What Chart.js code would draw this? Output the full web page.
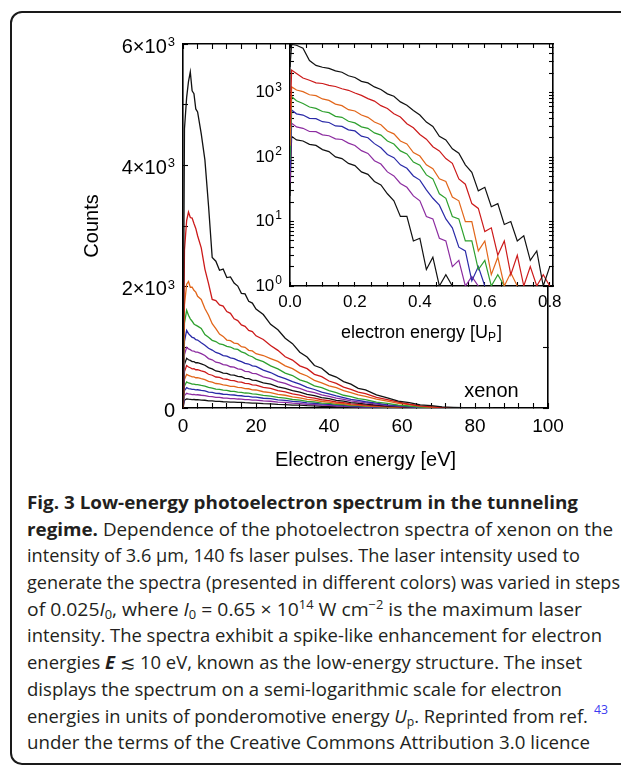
<!DOCTYPE html>
<html>
<head>
<meta charset="utf-8">
<title>Low-energy photoelectron spectrum</title>
<script src="https://cdn.jsdelivr.net/npm/chart.js@4.4.1/dist/chart.umd.min.js"></script>
<style>
  html, body { margin: 0; padding: 0; background: #fff; }
  body { width: 621px; height: 765px; position: relative; overflow: hidden; }
  #frame { position: absolute; left: 10px; top: 11px; width: 660px; height: 750px;
           border: 2px solid #1a1a1a; border-radius: 12px; }
  #mainChart { position: absolute; left: 0; top: 0; }
  #insetChart { position: absolute; left: 230px; top: 0; }
  #caption { position: absolute; left: 27px; top: 489px; font-family: "Open Sans", sans-serif;
             font-size: 18px; color: #231f20; }
  #caption .ln { height: 26.7px; line-height: 26.7px; white-space: nowrap; overflow: visible; }
  #caption .ln span.fit { display: inline-block; height: 26.7px; line-height: 26.7px; vertical-align: top;
                          transform-origin: 0 50%; }
  #caption sub, #caption sup { font-size: 12px; line-height: 0; }
  #caption sub { vertical-align: -3px; }
  #caption sup { vertical-align: 7px; }
  #caption .ref { color: #3b3bf0; font-size: 12px; line-height: 0; vertical-align: 9px; margin-left: 6px; }
</style>
</head>
<body>
<div id="frame"></div>
<canvas id="mainChart" width="621" height="480"></canvas>
<canvas id="insetChart" width="391" height="350"></canvas>

<div id="caption">
  <div class="ln"><span class="fit"><b>Fig. 3 Low-energy photoelectron spectrum in the tunneling</b></span></div>
  <div class="ln"><span class="fit"><b>regime.</b> Dependence of the photoelectron spectra of xenon on the</span></div>
  <div class="ln"><span class="fit">intensity of 3.6 μm, 140 fs laser pulses. The laser intensity used to</span></div>
  <div class="ln"><span class="fit">generate the spectra (presented in different colors) was varied in steps</span></div>
  <div class="ln"><span class="fit">of 0.025<i>I</i><sub>0</sub>, where <i>I</i><sub>0</sub> = 0.65 × 10<sup>14</sup> W cm<sup>−2</sup> is the maximum laser</span></div>
  <div class="ln"><span class="fit">intensity. The spectra exhibit a spike-like enhancement for electron</span></div>
  <div class="ln"><span class="fit">energies <b><i>E</i></b> ≲ 10 eV, known as the low-energy structure. The inset</span></div>
  <div class="ln"><span class="fit">displays the spectrum on a semi-logarithmic scale for electron</span></div>
  <div class="ln"><span class="fit">energies in units of ponderomotive energy <i>U</i><sub>p</sub>. Reprinted from ref.<span class="ref">43</span></span></div>
  <div class="ln"><span class="fit">under the terms of the Creative Commons Attribution 3.0 licence</span></div>
</div>

<script>
// ---- main panel: counts vs electron energy (eV) ----
const energyEv = [0, 0.4, 1, 1.5, 2, 2.5, 3, 3.5, 4, 5, 6, 7, 8, 9, 10, 11, 12, 13, 14, 15, 16, 17, 18, 19, 20,
  22, 24, 26, 28, 30, 32, 34, 36, 38, 40, 42, 44, 46, 48, 50, 53, 56, 59, 62, 65, 68, 71, 74, 77, 80, 85, 90, 95, 100];

// one spectrum per laser intensity (in units of I0), highest first
const countsI1000 = [0, 4600, 5120, 5380, 5540, 5230, 5180, 4930, 4880, 4520, 4090, 3330, 2480, 2420, 2270, 2290, 2150, 2160, 2060, 2010,
  1890, 1880, 1760, 1730, 1630, 1540, 1380, 1290, 1150, 1060, 920, 840, 700, 655, 555, 510, 435, 392, 325, 298,
  215, 168, 115, 88, 52, 38, 18, 11, 4, 2, 0];
const countsI0975 = [0, 2600, 3090, 3230, 3140, 3130, 3040, 2960, 2840, 2640, 2290, 2050, 1790, 1770, 1700, 1680, 1590, 1560, 1470, 1440,
  1370, 1345, 1280, 1260, 1190, 1130, 1030, 950, 845, 790, 695, 648, 555, 518, 445, 405, 345, 306, 262, 236,
  176, 138, 96, 62, 34, 19, 8, 3, 0];
const countsI0950 = [0, 1700, 2040, 2085, 1990, 1990, 1940, 1910, 1840, 1790, 1640, 1530, 1390, 1310, 1220, 1180, 1120, 1110, 1070, 1060,
  1010, 1000, 950, 940, 895, 865, 815, 768, 695, 648, 575, 528, 455, 415, 365, 335, 285, 255, 215, 193,
  146, 112, 78, 56, 28, 15, 5, 0];
const countsI0925 = [0, 1400, 1610, 1530, 1470, 1430, 1385, 1365, 1350, 1310, 1210, 1165, 1115, 1095, 1055, 1045, 1015, 1005, 975, 965,
  925, 905, 865, 845, 805, 765, 695, 645, 575, 535, 465, 425, 365, 335, 285, 255, 210, 188, 156, 137,
  97, 77, 48, 33, 16, 8, 2, 0];
const countsI0900 = [0, 1100, 1280, 1225, 1195, 1165, 1155, 1125, 1120, 1075, 1035, 985, 955, 915, 895, 865, 855, 825, 815, 785,
  765, 735, 725, 695, 685, 625, 585, 525, 485, 435, 395, 340, 305, 262, 234, 198, 172, 142, 127, 103,
  82, 53, 39, 22, 12, 4, 1, 0];
const countsI0875 = [0, 880, 1000, 975, 962, 940, 938, 920, 922, 895, 865, 815, 795, 755, 745, 715, 705, 680, 675, 645,
  635, 605, 598, 570, 565, 515, 485, 435, 405, 355, 325, 280, 254, 216, 193, 162, 142, 117, 102, 83,
  63, 43, 31, 17, 9, 3, 1, 0];
const countsI0850 = [0, 720, 820, 795, 785, 765, 763, 746, 748, 726, 705, 665, 645, 610, 600, 575, 570, 545, 543, 520,
  515, 490, 485, 460, 455, 415, 395, 350, 325, 285, 262, 224, 204, 171, 153, 127, 113, 90, 80, 63,
  49, 32, 23, 12, 6, 2, 0];
const countsI0825 = [0, 600, 700, 676, 664, 646, 648, 631, 633, 612, 594, 556, 540, 511, 504, 481, 474, 454, 452, 431,
  426, 406, 402, 381, 376, 341, 322, 286, 266, 231, 212, 179, 164, 136, 123, 99, 89, 69, 62, 48,
  37, 23, 17, 7, 4, 0];
const countsI0800 = [0, 470, 555, 538, 527, 512, 512, 499, 500, 483, 469, 439, 426, 404, 398, 380, 374, 358, 356, 340,
  336, 320, 317, 300, 297, 268, 254, 225, 210, 182, 167, 141, 129, 107, 98, 77, 70, 53, 49, 36,
  29, 17, 13, 5, 3, 0];
const countsI0775 = [0, 365, 430, 413, 404, 393, 395, 384, 386, 372, 362, 339, 329, 311, 307, 293, 289, 276, 275, 262,
  259, 247, 245, 232, 229, 207, 196, 174, 162, 140, 129, 109, 100, 82, 76, 59, 54, 41, 38, 27,
  23, 13, 11, 3, 2, 0];
const countsI0750 = [0, 285, 335, 321, 315, 306, 308, 299, 301, 290, 282, 263, 256, 242, 239, 227, 225, 215, 214, 204,
  202, 192, 191, 180, 179, 161, 153, 135, 127, 109, 101, 85, 78, 64, 59, 46, 42, 32, 29, 21,
  18, 10, 8, 3, 1, 0];
const countsI0725 = [0, 207, 242, 233, 229, 222, 223, 217, 218, 210, 205, 191, 186, 175, 174, 165, 163, 156, 156, 148,
  147, 139, 138, 131, 130, 117, 111, 98, 92, 79, 73, 62, 57, 46, 43, 33, 31, 23, 21, 15,
  13, 7, 6, 2, 1, 0];
const countsI0700 = [0, 130, 150, 145, 143, 139, 140, 136, 137, 131, 128, 119, 117, 109, 109, 103, 102, 97, 97, 93,
  92, 87, 86, 82, 81, 73, 69, 61, 57, 49, 46, 38, 35, 29, 27, 21, 19, 14, 13, 10,
  8, 5, 4, 1, 0];

const mainXTicks = [0, 4, 8, 12, 16, 20, 24, 28, 32, 36, 40, 44, 48, 52, 56, 60, 64, 68, 72, 76, 80, 84, 88, 92, 96, 100];
const mainXLabels = ['0', '', '', '', '', '20', '', '', '', '', '40', '', '', '', '', '60', '', '', '', '', '80', '', '', '', '', '100'];
const mainYTicks = [0, 1000, 2000, 3000, 4000, 5000, 6000];
const mainYLabels = ['0', '', '2×10^3', '', '4×10^3', '', '6×10^3'];

// ---- inset: same spectra vs energy in units of Up (log counts) ----
const energyUp = [0, 0.005, 0.02, 0.04, 0.06, 0.08, 0.10, 0.12, 0.14, 0.16, 0.18, 0.20, 0.22, 0.24, 0.26, 0.28, 0.30,
  0.32, 0.34, 0.36, 0.38, 0.40, 0.42, 0.44, 0.46, 0.48, 0.50, 0.52, 0.54, 0.56, 0.58, 0.60, 0.62, 0.64, 0.66,
  0.68, 0.70, 0.72, 0.74, 0.76, 0.78, 0.80];
const insetI1000 = [2500, 5600, 5450, 4900, 3150, 2650, 2480, 2380, 2180, 2080, 1830, 1720, 1500, 1420, 1230, 1120, 960,
  880, 720, 640, 530, 450, 350, 300, 210, 185, 135, 115, 76, 58, 30, 34, 17, 19, 9, 10, 5, 6, 2.5, 3.5, 1, 2];
const insetI0975 = [300, 2240, 1980, 1690, 1560, 1420, 1390, 1300, 1250, 1150, 1090, 990, 910, 810, 740, 630, 570,
  470, 420, 330, 285, 225, 190, 145, 125, 95, 80, 46, 38, 19, 16, 7, 8, 3, 5, 1.5, 3, 1, 2, 1, 1.5, 1];
const insetI0950 = [150, 1230, 1100, 1040, 930, 900, 800, 760, 665, 630, 545, 520, 450, 415, 350, 318, 255,
  230, 178, 160, 118, 104, 76, 66, 46, 42, 24, 21, 10, 10, 3.5, 5, 1.5, 2.8, 1, 1.6, 1];
const insetI0925 = [90, 870, 750, 680, 600, 570, 510, 490, 430, 415, 360, 340, 295, 280, 238, 220, 178,
  160, 125, 112, 84, 75, 53, 46, 27, 23, 12, 11, 5, 5, 1.8, 2.5, 1, 1.5, 1];
const insetI0900 = [60, 540, 470, 450, 400, 395, 355, 345, 305, 300, 265, 255, 212, 200, 162, 140, 110,
  98, 76, 67, 51, 44, 31, 23, 18, 11, 8, 4, 3.5, 1.2, 2, 1];
const insetI0875 = [40, 337, 295, 280, 250, 248, 222, 215, 192, 188, 165, 152, 126, 114, 88, 78, 59,
  51, 39, 34, 25, 21, 12, 11, 5.5, 5, 2, 2.5, 1, 1.4, 1];
const insetI0850 = [25, 210, 185, 178, 158, 152, 131, 122, 101, 95, 80, 74, 59, 54, 42, 37, 27,
  21, 12, 12, 5, 5.5, 1.8, 2.8, 1, 1.5, 1];

const insetXTicks = [0, 0.05, 0.1, 0.15, 0.2, 0.25, 0.3, 0.35, 0.4, 0.45, 0.5, 0.55, 0.6, 0.65, 0.7, 0.75, 0.8];
const insetXLabels = ['0.0', '', '', '', '0.2', '', '', '', '0.4', '', '', '', '0.6', '', '', '', '0.8'];
const insetYTicks = [1, 2, 3, 4, 5, 6, 7, 8, 9, 10, 20, 30, 40, 50, 60, 70, 80, 90,
  100, 200, 300, 400, 500, 600, 700, 800, 900, 1000, 2000, 3000, 4000, 5000];
const insetYLabels = { 1: '10^0', 10: '10^1', 100: '10^2', 1000: '10^3' };

const lineColors = ['#111111', '#cc1a1a', '#e2661a', '#2ea02e', '#2a2aa8', '#8c2ca0'];

const FAMILY = '"Liberation Sans", Arial, sans-serif';
Chart.defaults.font.family = FAMILY;
Chart.defaults.color = '#000';

function toPoints(xs, ys) {
  return ys.map((y, i) => ({ x: xs[i], y: y }));
}

function makeDatasets(xs, list, width) {
  return list.map((ys, i) => ({
    data: toPoints(xs, ys),
    borderColor: lineColors[i % lineColors.length],
    borderWidth: width,
    pointRadius: 0,
    tension: 0,
    fill: false
  }));
}

// inward tick marks on all four sides, no grid lines
function frameGrid(len) {
  return { drawOnChartArea: false, drawTicks: true, tickLength: -len, tickColor: '#000', tickWidth: 1.1 };
}
const frameBorder = { display: true, color: '#000', width: 1.6 };

// "a×10^b" labels with a real raised exponent, right aligned against the axis
function drawPower(ctx, text, xRight, yMid, baseSize, supSize, rise) {
  const parts = text.split('^');
  const base = parts[0], exp = parts[1] || '';
  ctx.font = supSize + 'px ' + FAMILY;
  const ws = exp ? ctx.measureText(exp).width + 1 : 0;
  ctx.font = baseSize + 'px ' + FAMILY;
  const wb = ctx.measureText(base).width;
  const x0 = xRight - ws - wb;
  ctx.textAlign = 'left';
  ctx.textBaseline = 'middle';
  ctx.fillText(base, x0, yMid);
  if (exp) {
    ctx.font = supSize + 'px ' + FAMILY;
    ctx.fillText(exp, x0 + wb + 1, yMid - rise);
  }
}

function powerLabels(id, ticks, labelOf, gap, shift, baseSize, supSize, rise) {
  return {
    id: id,
    afterDraw(chart) {
      const { ctx, chartArea, scales } = chart;
      ctx.save();
      ctx.fillStyle = '#000';
      ticks.forEach((v, i) => {
        const text = labelOf(v, i);
        if (!text) return;
        drawPower(ctx, text, chartArea.left - gap, scales.y.getPixelForValue(v) + shift, baseSize, supSize, rise);
      });
      ctx.restore();
    }
  };
}

const xenonLabel = {
  id: 'xenonLabel',
  afterDatasetsDraw(chart) {
    const { ctx, scales } = chart;
    ctx.save();
    ctx.font = '20px ' + FAMILY;
    ctx.fillStyle = '#000';
    ctx.textAlign = 'center';
    ctx.textBaseline = 'middle';
    ctx.fillText('xenon', scales.x.getPixelForValue(84.5), scales.y.getPixelForValue(280));
    ctx.restore();
  }
};

const mainSeries = [countsI1000, countsI0975, countsI0950, countsI0925, countsI0900, countsI0875, countsI0850,
  countsI0825, countsI0800, countsI0775, countsI0750, countsI0725, countsI0700];

new Chart(document.getElementById('mainChart'), {
  type: 'line',
  data: { datasets: makeDatasets(energyEv, mainSeries, 1.3) },
  options: {
    responsive: false,
    animation: false,
    events: [],
    layout: { padding: { top: 44, right: 73, left: 0, bottom: 0 } },
    plugins: { legend: { display: false }, tooltip: { enabled: false } },
    scales: {
      x: {
        type: 'linear', position: 'bottom', min: 0, max: 100,
        afterFit: s => { s.height = 72; },
        afterBuildTicks: s => { s.ticks = mainXTicks.map(v => ({ value: v })); },
        grid: frameGrid(5), border: frameBorder,
        ticks: { autoSkip: false, maxRotation: 0, padding: 12.6, font: { size: 19 },
                 callback: (v, i) => mainXLabels[i] },
        title: { display: true, text: 'Electron energy [eV]', font: { size: 20 }, padding: { top: 0, bottom: 7.6 } }
      },
      xTop: {
        type: 'linear', position: 'top', min: 0, max: 100,
        afterFit: s => { s.height = 0; },
        afterBuildTicks: s => { s.ticks = mainXTicks.map(v => ({ value: v })); },
        grid: frameGrid(5), border: frameBorder,
        ticks: { autoSkip: false, callback: () => '' }
      },
      y: {
        type: 'linear', position: 'left', min: 0, max: 6000,
        afterFit: s => { s.width = 183; },
        afterBuildTicks: s => { s.ticks = mainYTicks.map(v => ({ value: v })); },
        grid: frameGrid(5), border: frameBorder,
        ticks: { autoSkip: false, callback: () => '' },
        title: { display: true, text: 'Counts', font: { size: 20 }, padding: { top: 80, bottom: 0 } }
      },
      yRight: {
        type: 'linear', position: 'right', min: 0, max: 6000,
        afterFit: s => { s.width = 0; },
        afterBuildTicks: s => { s.ticks = mainYTicks.map(v => ({ value: v })); },
        grid: frameGrid(5), border: frameBorder,
        ticks: { autoSkip: false, callback: () => '' }
      }
    }
  },
  plugins: [xenonLabel, powerLabels('mainYLabels', mainYTicks, (v, i) => mainYLabels[i], 8, 3, 20, 13, 4.5)]
});

// white plot area so the inset hides what is behind it
const whiteArea = {
  id: 'whiteArea',
  beforeDraw(chart) {
    const { ctx, chartArea: a } = chart;
    ctx.save();
    ctx.fillStyle = '#fff';
    ctx.fillRect(a.left, a.top, a.right - a.left, a.bottom - a.top);
    ctx.restore();
  }
};

// x title with subscript P
const insetTitle = {
  id: 'insetTitle',
  afterDraw(chart) {
    const { ctx, chartArea } = chart;
    const head = 'electron energy [U', sub = 'P', tail = ']';
    const big = '18px ' + FAMILY;
    const small = '12px ' + FAMILY;
    ctx.save();
    ctx.fillStyle = '#000';
    ctx.textBaseline = 'alphabetic';
    ctx.textAlign = 'left';
    ctx.font = big;
    const w1 = ctx.measureText(head).width, w3 = ctx.measureText(tail).width;
    ctx.font = small;
    const w2 = ctx.measureText(sub).width + 1;
    let x = (chartArea.left + chartArea.right) / 2 - (w1 + w2 + w3) / 2;
    const base = 338;
    ctx.font = big;
    ctx.fillText(head, x, base);
    x += w1;
    ctx.font = small;
    ctx.fillText(sub, x, base + 3);
    x += w2;
    ctx.font = big;
    ctx.fillText(tail, x, base);
    ctx.restore();
  }
};

const insetSeries = [insetI1000, insetI0975, insetI0950, insetI0925, insetI0900, insetI0875, insetI0850];

new Chart(document.getElementById('insetChart'), {
  type: 'line',
  data: { datasets: makeDatasets(energyUp, insetSeries, 1.2) },
  options: {
    responsive: false,
    animation: false,
    events: [],
    layout: { padding: { top: 44, right: 68, left: 0, bottom: 0 } },
    plugins: { legend: { display: false }, tooltip: { enabled: false } },
    scales: {
      x: {
        type: 'linear', position: 'bottom', min: 0, max: 0.81,
        afterFit: s => { s.height = 64; },
        afterBuildTicks: s => { s.ticks = insetXTicks.map(v => ({ value: v })); },
        grid: frameGrid(4), border: frameBorder,
        ticks: { autoSkip: false, maxRotation: 0, padding: 9.8, font: { size: 17 },
                 callback: (v, i) => insetXLabels[i] }
      },
      xTop: {
        type: 'linear', position: 'top', min: 0, max: 0.81,
        afterFit: s => { s.height = 0; },
        afterBuildTicks: s => { s.ticks = insetXTicks.map(v => ({ value: v })); },
        grid: frameGrid(4), border: frameBorder,
        ticks: { autoSkip: false, callback: () => '' }
      },
      y: {
        type: 'logarithmic', position: 'left', min: 1, max: 5700,
        afterFit: s => { s.width = 60; },
        afterBuildTicks: s => { s.ticks = insetYTicks.map(v => ({ value: v })); },
        grid: frameGrid(4), border: frameBorder,
        ticks: { autoSkip: false, callback: () => '' }
      },
      yRight: {
        type: 'logarithmic', position: 'right', min: 1, max: 5700,
        afterFit: s => { s.width = 0; },
        afterBuildTicks: s => { s.ticks = insetYTicks.map(v => ({ value: v })); },
        grid: frameGrid(4), border: frameBorder,
        ticks: { autoSkip: false, callback: () => '' }
      }
    }
  },
  plugins: [whiteArea, insetTitle, powerLabels('insetYLabels', insetYTicks, v => insetYLabels[v], 8, 0, 17, 12, 5.5)]
});

// caption lines: squeeze each line to the measured width of the original layout
const captionRight = [578, 613, 580, 620, 582, 602, 582, 562, 608, 590];
function fitCaption() {
  const lines = document.querySelectorAll('#caption .fit');
  lines.forEach((el, i) => {
    el.style.transform = 'none';
    const w = el.getBoundingClientRect().width;
    const target = captionRight[i] - 27;
    el.style.transform = 'scaleX(' + (target / w).toFixed(4) + ')';
  });
}
fitCaption();
if (document.fonts && document.fonts.ready) document.fonts.ready.then(fitCaption);
</script>
</body>
</html>
